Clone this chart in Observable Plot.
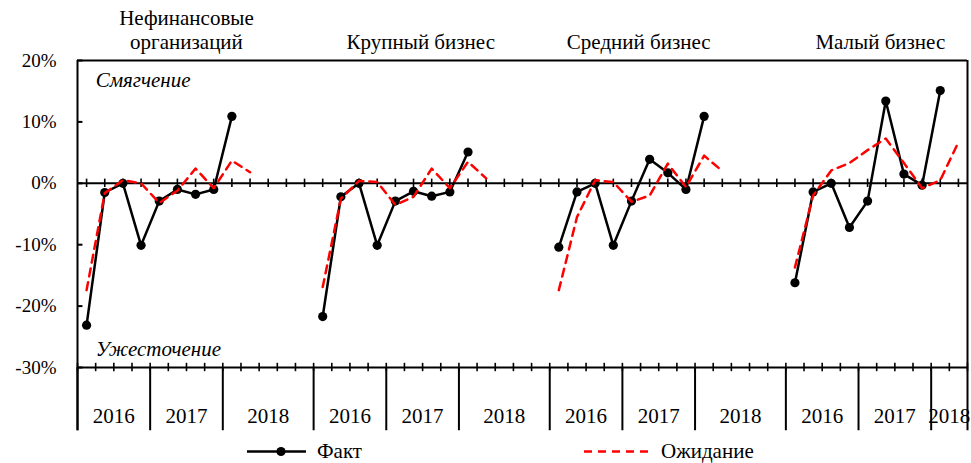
<!DOCTYPE html>
<html>
<head>
<meta charset="utf-8">
<script src="https://cdn.jsdelivr.net/npm/d3@7"></script>
<script src="https://cdn.jsdelivr.net/npm/@observablehq/plot@0.6"></script>
<style>
  html, body { margin: 0; padding: 0; background: #fff; }
  #wrap { width: 971px; font-family: "Liberation Serif", "Times New Roman", serif; }
  #legend { position: relative; height: 23px; font-size: 21px; color: #000; }
  #legend .item { position: absolute; top: 0; height: 23px; display: flex; align-items: center; }
  #legend svg { display: block; }
</style>
</head>
<body>
<div id="wrap">
  <div id="chart"></div>
  <div id="legend"></div>
</div>
<script>
// ---- data ----
const panels = ["Нефинансовые\nорганизаций", "Крупный бизнес", "Средний бизнес", "Малый бизнес"];
const years = ["2016", "2017", "2018"];
const yTicks = [-30, -20, -10, 0, 10, 20];
const seriesNames = ["Факт", "Ожидание"];
const zoneLabels = ["Смягчение", "Ужесточение"];

// quarterly values, 2016 Q1 onward (%)
const factNonfin = [-23.1, -1.5, 0.0, -10.1, -2.9, -1.0, -1.8, -1.0, 10.9];
const expNonfin  = [-17.4, -1.6, 0.5, 0.0, -3.2, -1.2, 2.4, -0.8, 3.7, 1.8];
const factLarge  = [-21.7, -2.2, 0.0, -10.1, -2.9, -1.3, -2.1, -1.4, 5.1];
const expLarge   = [-16.9, -2.5, 0.4, 0.2, -3.5, -2.2, 2.4, -0.8, 3.5, 0.8];
const factMedium = [-10.4, -1.4, 0.0, -10.1, -2.9, 3.9, 1.7, -1.0, 10.9];
const expMedium  = [-17.4, -5.5, 0.5, 0.2, -3.0, -2.0, 3.2, -0.6, 4.5, 2.0];
const factSmall  = [-16.2, -1.4, 0.0, -7.2, -2.9, 13.4, 1.5, -0.3, 15.1];
const expSmall   = [-13.7, -2.0, 2.1, 3.3, 5.4, 7.3, 3.3, -0.8, 0.5, 6.7];

const facts = [factNonfin, factLarge, factMedium, factSmall];
const exps  = [expNonfin, expLarge, expMedium, expSmall];

// ---- layout helpers (slot index based) ----
const slotsPerPanel = 13;          // 12 quarters + 1 gap
const totalSlots = 49;             // last panel truncated after 2018 Q2
const panelStart = p => p * slotsPerPanel;
const panelEnd = p => Math.min(panelStart(p) + slotsPerPanel, totalSlots);

const factRows = facts.flatMap((arr, p) => arr.map((v, q) => ({p, x: panelStart(p) + q + 0.5, v})));
const expRows  = exps.flatMap((arr, p) => arr.map((v, q) => ({p, x: panelStart(p) + q + 0.5, v})));

const separators = panels.flatMap((_, p) => [0, 4, 8].map(o => panelStart(p) + o));
const yearLabels = panels.flatMap((_, p) => years.map((y, i) => {
  const a = panelStart(p) + 4 * i;
  const b = i < 2 ? a + 4 : panelEnd(p);
  return {x: (a + b) / 2, label: y};
}));
const titleShift = [6, 5.9, 4.9, 5.2];
const titleRows = panels.map((t, p) => ({x: panelStart(p) + titleShift[p], t}));
const centers = d3.range(totalSlots).map(i => i + 0.5);
const bounds = d3.range(totalSlots + 1);

const yBottom = -30, yTop = 20, yExt = -40.3;
const FS = 19;

const chart = Plot.plot({
  width: 971,
  height: 440,
  marginLeft: 77,
  marginRight: 4,
  marginTop: 60,
  marginBottom: 73,
  style: {fontFamily: '"Liberation Serif", "Times New Roman", serif', fontSize: FS + "px", color: "#000", background: "#fff"},
  x: {type: "linear", domain: [0, totalSlots], axis: null},
  y: {type: "linear", domain: [yBottom, yTop], axis: null},
  marks: [
    // y axis labels
    Plot.axisY({ticks: yTicks, tickSize: 0, tickPadding: 21, tickFormat: d => d + "%", label: null, fontSize: FS, fill: "#000"}),
    // inner y ticks
    Plot.ruleY(yTicks, {x1: 0, x2: 0.3, stroke: "#000", strokeWidth: 2}),
    // frame
    Plot.ruleY([yTop], {x1: 0, x2: totalSlots, stroke: "#000", strokeWidth: 2}),
    Plot.ruleY([yBottom], {x1: 0, x2: totalSlots, stroke: "#000", strokeWidth: 2}),
    Plot.ruleY([0], {x1: 0, x2: totalSlots, stroke: "#000", strokeWidth: 2}),
    Plot.ruleX([0, totalSlots], {y1: yTop, y2: yExt, stroke: "#000", strokeWidth: 2}),
    // zero-line ticks at quarter centers
    Plot.ruleX(centers, {y1: -0.68, y2: 0.68, stroke: "#000", strokeWidth: 1.6}),
    // bottom ticks at quarter boundaries
    Plot.ruleX(bounds, {y1: yBottom - 0.68, y2: yBottom + 0.68, stroke: "#000", strokeWidth: 1.6}),
    // year separators
    Plot.ruleX(separators, {y1: yBottom, y2: yExt, stroke: "#000", strokeWidth: 2}),
    // year labels
    Plot.text(yearLabels, {x: "x", y: yBottom, dy: 49, text: "label", fontSize: 21, fill: "#000"}),
    // panel titles
    Plot.text(titleRows, {x: "x", y: yTop, dy: -12, text: "t", lineAnchor: "bottom", lineHeight: 1.1, fontSize: 21, fill: "#000"}),
    // zone labels
    Plot.text([zoneLabels[0]], {x: 1, y: 16.8, text: d => d, textAnchor: "start", fontStyle: "italic", fontSize: 21, fill: "#000"}),
    Plot.text([zoneLabels[1]], {x: 1, y: -27.1, text: d => d, textAnchor: "start", fontStyle: "italic", fontSize: 21, fill: "#000"}),
    // fact
    Plot.line(factRows, {x: "x", y: "v", z: "p", stroke: "#000", strokeWidth: 2.5, strokeLinejoin: "round"}),
    Plot.dot(factRows, {x: "x", y: "v", r: 4.6, fill: "#000", stroke: "none"}),
    // expectation
    Plot.line(expRows, {x: "x", y: "v", z: "p", stroke: "#ff0000", strokeWidth: 2.5, strokeDasharray: "8,6"})
  ]
});
document.getElementById("chart").appendChild(chart);

// legend
const legend = document.getElementById("legend");
legend.innerHTML = `
  <div class="item" style="left:247px">
    <svg width="60" height="23"><line x1="0" y1="11.5" x2="59" y2="11.5" stroke="#000" stroke-width="2.5"/><circle cx="34" cy="11.5" r="4.6" fill="#000"/></svg>
    <span style="margin-left:10px">${seriesNames[0]}</span>
  </div>
  <div class="item" style="left:584px">
    <svg width="66" height="23"><line x1="0" y1="11.5" x2="66" y2="11.5" stroke="#ff0000" stroke-width="2.5" stroke-dasharray="8,6"/></svg>
    <span style="margin-left:11px">${seriesNames[1]}</span>
  </div>`;
</script>
</body>
</html>
